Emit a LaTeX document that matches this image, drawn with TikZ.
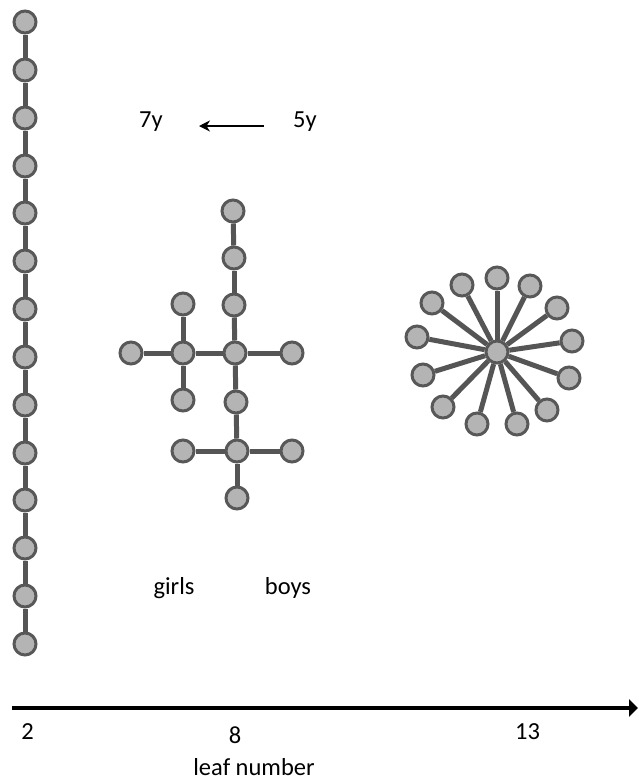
\documentclass[tikz,border=0pt]{standalone}
\usepackage{fontspec}
\setmainfont{Carlito}
\usetikzlibrary{arrows.meta}

\definecolor{leaffill}{RGB}{180,180,180}
\definecolor{leafline}{RGB}{88,88,88}
\definecolor{stemcol}{RGB}{85,85,85}

\tikzset{
  leaf/.style={circle, draw=leafline, fill=leaffill, line width=3pt,
    minimum size=22pt, inner sep=0pt},
  stem/.style={draw=stemcol, line width=5pt},
  lbl/.style={font=\fontsize{24.5}{29}\selectfont, inner sep=0pt},
}

\begin{document}
\begin{tikzpicture}[x=1pt, y=-1pt]
  \useasboundingbox (0,0) rectangle (638,780);

  % --- chain (2 leaves) ---
  \node[leaf] (c1)  at (25, 22)  {};
  \node[leaf] (c2)  at (25, 70)  {};
  \node[leaf] (c3)  at (25, 118) {};
  \node[leaf] (c4)  at (25, 166) {};
  \node[leaf] (c5)  at (25, 213) {};
  \node[leaf] (c6)  at (25, 261) {};
  \node[leaf] (c7)  at (25, 309) {};
  \node[leaf] (c8)  at (25, 357) {};
  \node[leaf] (c9)  at (25, 405) {};
  \node[leaf] (c10) at (25, 453) {};
  \node[leaf] (c11) at (25, 500) {};
  \node[leaf] (c12) at (25, 548) {};
  \node[leaf] (c13) at (25, 596) {};
  \node[leaf] (c14) at (25, 644) {};
  \draw[stem] (c1) -- (c2);
  \draw[stem] (c2) -- (c3);
  \draw[stem] (c3) -- (c4);
  \draw[stem] (c4) -- (c5);
  \draw[stem] (c5) -- (c6);
  \draw[stem] (c6) -- (c7);
  \draw[stem] (c7) -- (c8);
  \draw[stem] (c8) -- (c9);
  \draw[stem] (c9) -- (c10);
  \draw[stem] (c10) -- (c11);
  \draw[stem] (c11) -- (c12);
  \draw[stem] (c12) -- (c13);
  \draw[stem] (c13) -- (c14);

  % --- tree (8 leaves) ---
  \node[leaf] (t1)   at (233, 211) {};
  \node[leaf] (t2)   at (234, 258) {};
  \node[leaf] (t3)   at (234, 305) {};
  \node[leaf] (hub)  at (235, 353) {};
  \node[leaf] (hubr) at (292, 353) {};
  \node[leaf] (lh)   at (183, 353) {};
  \node[leaf] (lhl)  at (131, 353) {};
  \node[leaf] (lhu)  at (183, 304) {};
  \node[leaf] (lhd)  at (183, 400) {};
  \node[leaf] (t4)   at (236, 402) {};
  \node[leaf] (bh)   at (237, 451) {};
  \node[leaf] (bhl)  at (183, 451) {};
  \node[leaf] (bhr)  at (292, 451) {};
  \node[leaf] (bhd)  at (237, 498) {};
  \draw[stem] (t1) -- (t2);
  \draw[stem] (t2) -- (t3);
  \draw[stem] (t3) -- (hub);
  \draw[stem] (hub) -- (t4);
  \draw[stem] (t4) -- (bh);
  \draw[stem] (bh) -- (bhd);
  \draw[stem] (lhl) -- (lh);
  \draw[stem] (lh) -- (hub);
  \draw[stem] (hub) -- (hubr);
  \draw[stem] (lhu) -- (lh);
  \draw[stem] (lh) -- (lhd);
  \draw[stem] (bhl) -- (bh);
  \draw[stem] (bh) -- (bhr);

  % --- rosette (13 leaves) ---
  \node[leaf] (s0)  at (497, 352) {};
  \node[leaf] (s1)  at (497, 278) {};
  \node[leaf] (s2)  at (530, 286) {};
  \node[leaf] (s3)  at (557, 308) {};
  \node[leaf] (s4)  at (572, 341) {};
  \node[leaf] (s5)  at (569, 378) {};
  \node[leaf] (s6)  at (547, 410) {};
  \node[leaf] (s7)  at (517, 424) {};
  \node[leaf] (s8)  at (477, 424) {};
  \node[leaf] (s9)  at (443, 407) {};
  \node[leaf] (s10) at (423, 375) {};
  \node[leaf] (s11) at (417, 337) {};
  \node[leaf] (s12) at (432, 303) {};
  \node[leaf] (s13) at (462, 285) {};
  \draw[stem] (s0) -- (s1);
  \draw[stem] (s0) -- (s2);
  \draw[stem] (s0) -- (s3);
  \draw[stem] (s0) -- (s4);
  \draw[stem] (s0) -- (s5);
  \draw[stem] (s0) -- (s6);
  \draw[stem] (s0) -- (s7);
  \draw[stem] (s0) -- (s8);
  \draw[stem] (s0) -- (s9);
  \draw[stem] (s0) -- (s10);
  \draw[stem] (s0) -- (s11);
  \draw[stem] (s0) -- (s12);
  \draw[stem] (s0) -- (s13);

  % --- ages ---
  \node[lbl] (old)   at (151, 122) {7y};
  \node[lbl] (young) at (305, 122) {5y};
  \coordinate (agefrom) at (264, 126);
  \coordinate (ageto)   at (199, 126);
  \draw[line width=2.5pt, -{Stealth[length=11pt, width=11pt]}] (agefrom) -- (ageto);

  % --- sexes ---
  \node[lbl] (girls) at (174, 588) {girls};
  \node[lbl] (boys)  at (288, 588) {boys};

  % --- axis ---
  \coordinate (ax0) at (12, 708);
  \coordinate (ax1) at (638, 708);
  \draw[line width=3.5pt, -{Triangle[length=9pt, width=17pt]}] (ax0) -- (ax1);
  \node[lbl] (n2)  at (27.5, 732) {2};
  \node[lbl] (n8)  at (235, 735)  {8};
  \node[lbl] (n13) at (527.5, 732) {13};
  \node[lbl] (axlabel) at (254, 767) {leaf number};

\end{tikzpicture}
\end{document}
